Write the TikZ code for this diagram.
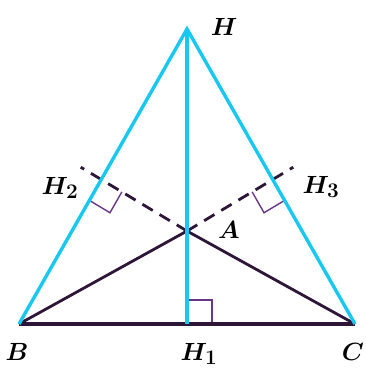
\documentclass[tikz,border=0pt]{standalone}
\usetikzlibrary{calc}
\definecolor{cyanl}{RGB}{25,200,240}
\definecolor{darkl}{RGB}{45,22,55}
\definecolor{markl}{RGB}{105,55,135}
\begin{document}
\begin{tikzpicture}[x=1pt,y=-1pt,
  cyanline/.style={cyanl,line width=3.4pt},
  darkline/.style={darkl,line width=2.8pt},
  dashline/.style={darkl,line width=2.8pt,dash pattern=on 12pt off 8pt},
  marker/.style={markl,line width=1.4pt},
  lab/.style={font=\fontsize{29}{32}\selectfont\boldmath,inner sep=0pt}]
\useasboundingbox (0,0) rectangle (366,376);
\coordinate (B) at (19,324);
\coordinate (C) at (355,324);
\coordinate (H) at (187,29);
\coordinate (H1) at (187,324);
\coordinate (A) at (187,231);
\coordinate (H2) at ($(B)!(C)!(H)$);
\coordinate (H3) at ($(C)!(B)!(H)$);
\coordinate (E2) at ($(H2)!-24pt!(A)$);
\coordinate (E3) at ($(H3)!-24pt!(A)$);
% markers
\coordinate (m2a) at ($(H2)!24pt!(B)$);
\coordinate (m2b) at ($(H2)!24pt!(A)$);
\coordinate (m3a) at ($(H3)!24pt!(C)$);
\coordinate (m3b) at ($(H3)!24pt!(A)$);
\coordinate (m1a) at ($(H1)!24pt!(A)$);
\coordinate (m1b) at ($(H1)!25pt!(C)$);
\draw[marker] (m2a) -- ($(m2a)+(m2b)-(H2)$) -- (m2b);
\draw[marker] (m3a) -- ($(m3a)+(m3b)-(H3)$) -- (m3b);
\draw[marker] (m1a) -- ($(m1a)+(m1b)-(H1)$) -- (m1b);
% dark lines
\draw[darkline] (B) -- (A) -- (C);
\draw[dashline] (A) -- (E2);
\draw[dashline] (A) -- (E3);
\draw[darkl,line width=3.6pt] (B) -- (C);
% cyan lines
\draw[cyanline,line join=miter] (B) -- (H) -- (C);
\draw[cyanline] (H) -- (H1);
% labels
\node[lab] (lH) at (224,27) {$H$};
\node[lab] (lH2) at (60,188) {$H_2$};
\node[lab] (lH3) at (321,187) {$H_3$};
\node[lab] (lA) at (229,230) {$A$};
\node[lab] (lB) at (17,352) {$B$};
\node[lab] (lH1) at (199,354) {$H_1$};
\node[lab] (lC) at (353,352) {$C$};
\end{tikzpicture}
\end{document}
